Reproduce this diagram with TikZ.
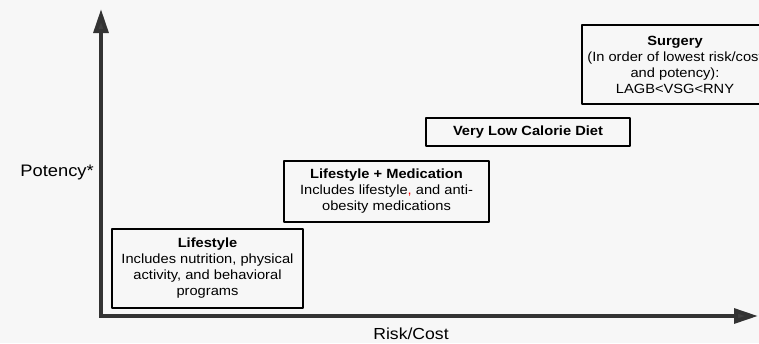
\documentclass[tikz,border=0pt]{standalone}
\usepackage{fontspec}
\setmainfont{Liberation Sans}[FakeStretch=1.1]
\usetikzlibrary{arrows.meta}

\begin{document}
\begin{tikzpicture}[x=0.75pt,y=-0.75pt,line join=round,
  treatbox/.style={draw=black,line width=0.9pt,align=center,inner sep=0pt,
    font=\fontsize{10}{12}\selectfont},
  axisline/.style={line width=3pt,draw=black!80,
    -{Triangle[length=18pt,width=11pt,fill=black!75]}}]
\useasboundingbox (0,0) rectangle (759,343);
\clip (0,0) rectangle (759,343);
\fill[black!3] (0,0) rectangle (759,343);

% axes
\coordinate (origin) at (101,316);
\coordinate (ytip) at (101,9);
\coordinate (xtip) at (758,316);
\draw[axisline] (origin) -- (ytip);
\draw[axisline] ([xshift=-1.5pt]origin) -- (xtip);
\node[font=\fontsize{12.5}{14}\selectfont,anchor=east,inner sep=0pt] (potency)
  at (94,172) {Potency*};
\node[font=\fontsize{12}{14}\selectfont,inner sep=0pt] (riskcost)
  at (411,334) {Risk/Cost};

% treatment boxes
\node[treatbox,minimum width=143.25pt,minimum height=59.25pt] (lifestyle)
  at (207.5,268.5) {\textbf{Lifestyle}\\Includes nutrition, physical\\
  activity, and behavioral\\programs};
\node[treatbox,minimum width=153.75pt,minimum height=45.75pt] (medication)
  at (386.5,191.5) {\textbf{Lifestyle + Medication}\\
  Includes lifestyle{\color{red},} and anti-\\obesity medications};
\node[treatbox,minimum width=153pt,minimum height=21pt] (vlcd)
  at (528,132) {\textbf{Very Low Calorie Diet}};
\node[treatbox,minimum width=139.5pt,minimum height=59.25pt] (surgery)
  at (675,64.5) {\textbf{Surgery}\\(In order of lowest risk/cost\\
  and potency):\\LAGB<VSG<RNY};
\end{tikzpicture}
\end{document}
